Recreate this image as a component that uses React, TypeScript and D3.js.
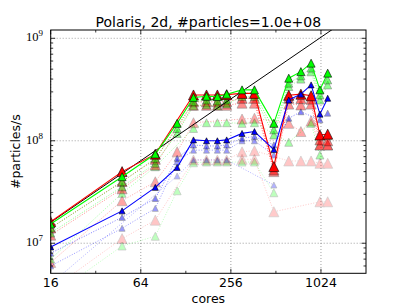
import * as d3 from 'd3';

// core counts on the x axis
const cores = [16, 48, 80, 112, 144, 176, 208, 240, 304, 368, 496, 624, 752, 880, 1008, 1136];

// throughput in millions of particles/s (null = no visible point)
const redMain = [16.2, 50, 74, null, 280, 280, 280, 282, 290, 290, 56, 278, 285, 275, 114, 116];
const greenMain = [15.4, 44.6, 74.3, 148, 265, 272, 270, 285, 314, 314, 148, 408, 473, 572, 314, 457];
const blueMain = [9.2, 20.7, 35.1, 55, 102, 100, 100, 102, 118, 123, 82, 250, 285, 351, 182, 260];

const red1 = [14.1, 40, 66, null, 240, 240, 240, 240, 260, 260, 52, 260, 258, 255, 102, 100];
const red2 = [12.0, 34, 58, null, 222, 222, 222, 222, 233, 233, 50, 228, 224, 228, 91, 91];
const red3 = [6.5, 26, 39.8, 78, 150, null, null, null, 163, 166, null, 148, 123, 156, 91, 91];
const red4 = [3.5, 11.1, 16.8, null, 65, 65, 65, 65, 78, 80, null, 63.5, 63.5, 63.5, 60.3, 60.3];
const red5 = [null, null, null, null, null, null, null, null, 66, 66, 20.3, null, null, null, 25.4, 25.4];

const green1 = [14.1, 39.8, 67.4, 132, 241, 250, 245, 250, 291, 291, 128, 365, 430, 512, 280, 393];
const green2 = [12.6, 35.6, 60.3, 118, 219, 224, 219, 228, 270, 270, 114, 338, 400, 471, 250, 351];
const green3 = [7.0, 30.7, 55.8, null, 132, 150, 150, 150, 148, 150, null, 96.7, null, 148, 72.6, 112];
const green4 = [3.0, 9.4, 11.7, 32.5, 61, 62, 62, 62, 62, 62, 31.1, null, null, null, null, null];

const blue1 = [8.0, 17.9, 27.4, 67.4, 91, 89, 89, 91, 106, 110, 91, 166, 192, null, 160, 186];
const blue2 = [6.0, 14.0, 21.9, 62.5, 81, 81, 81, 81, 100, 100, 72.6, null, null, null, null, null];
const blue3 = [4.0, null, null, 45.3, 65, 65, 65, 65, null, null, 37, null, null, null, null, null];

// perfect scaling reference
const idealCores = [16, 2048];
const idealRate = [16, 2048];

const xTicks = [16, 64, 256, 1024];
const xMinorTicks = [32, 128, 512];
const yTicks = [10, 100, 1000];
const yTickExp = ['7', '8', '9'];

const W = 407;
const H = 305;
const plot = { left: 50.7, right: 366, top: 30, bottom: 273.3 };

type Series = { values: (number | null)[]; color: string; alpha: number; size: number; main: boolean };

const series: Series[] = [
  { values: red5, color: '#ff0000', alpha: 0.2, size: 10, main: false },
  { values: red4, color: '#ff0000', alpha: 0.22, size: 10, main: false },
  { values: green4, color: '#00ff00', alpha: 0.25, size: 8, main: false },
  { values: blue3, color: '#0000ff', alpha: 0.3, size: 6, main: false },
  { values: red3, color: '#ff0000', alpha: 0.35, size: 10, main: false },
  { values: green3, color: '#00ff00', alpha: 0.35, size: 8, main: false },
  { values: blue2, color: '#0000ff', alpha: 0.4, size: 6, main: false },
  { values: red2, color: '#ff0000', alpha: 0.45, size: 10, main: false },
  { values: red1, color: '#ff0000', alpha: 0.55, size: 10, main: false },
  { values: green2, color: '#00ff00', alpha: 0.45, size: 8, main: false },
  { values: green1, color: '#00ff00', alpha: 0.55, size: 8, main: false },
  { values: blue1, color: '#0000ff', alpha: 0.5, size: 6, main: false },
];

const mains: Series[] = [
  { values: redMain, color: '#ff0000', alpha: 1, size: 10, main: true },
  { values: greenMain, color: '#00ff00', alpha: 1, size: 8, main: true },
  { values: blueMain, color: '#0000ff', alpha: 1, size: 6, main: true },
];

export default function App() {
  const x = d3.scaleLog().base(2).domain([16, 2048]).range([plot.left, plot.right]);
  const y = d3.scaleLog().domain([5.09, 1205]).range([plot.bottom, plot.top]);

  const line = d3
    .line<[number, number]>()
    .x((d) => x(d[0]))
    .y((d) => y(d[1]));

  const pts = (vals: (number | null)[]) =>
    cores.map((c, i) => [c, vals[i]] as [number, number | null]).filter((d) => d[1] != null) as [number, number][];

  const tri = (cx: number, cy: number, s: number) => {
    const h = s / 2;
    return `M${cx},${cy - h}L${cx + h},${cy + h}L${cx - h},${cy + h}Z`;
  };

  const yMinor: number[] = [];
  for (let e = 0; e <= 3; e++) {
    for (let m = 2; m <= 9; m++) {
      const v = m * Math.pow(10, e);
      if (v > 5.09 && v < 1205) yMinor.push(v);
    }
  }

  const drawSeries = (s: Series, k: string) => {
    const p = pts(s.values);
    return (
      <g key={k} opacity={s.alpha}>
        <path
          d={line(p) ?? ''}
          fill="none"
          stroke={s.color}
          strokeWidth={s.main ? 1.1 : 1}
          strokeDasharray={s.main ? undefined : '1,1.65'}
        />
        {p.map((d, i) => (
          <path key={i} d={tri(x(d[0]), y(d[1]), s.size)} fill={s.color} stroke="#000" strokeWidth={0.6} />
        ))}
      </g>
    );
  };

  const idealPts = idealCores.map((c, i) => [c, idealRate[i]] as [number, number]);
  const pw = plot.right - plot.left;
  const ph = plot.bottom - plot.top;

  return (
    <svg
      width={W}
      height={H}
      style={{ position: 'absolute', left: 0, top: 0, background: '#fff' }}
      fontFamily="DejaVu Sans"
    >
      <defs>
        <clipPath id="plotclip">
          <rect x={plot.left} y={plot.top} width={pw} height={ph} />
        </clipPath>
      </defs>

      {/* grid */}
      <g stroke="#000" strokeWidth={0.6} strokeDasharray="1,2" opacity={0.6}>
        {xTicks.map((t) => (
          <line key={t} x1={x(t)} x2={x(t)} y1={plot.top} y2={plot.bottom} />
        ))}
        {yTicks.map((t) => (
          <line key={t} x1={plot.left} x2={plot.right} y1={y(t)} y2={y(t)} />
        ))}
      </g>

      <g clipPath="url(#plotclip)">
        {series.map((s, i) => drawSeries(s, 'l' + i))}
        <path d={line(idealPts) ?? ''} fill="none" stroke="#000" strokeWidth={1} />
        {mains.map((s, i) => drawSeries(s, 'm' + i))}
      </g>

      {/* ticks */}
      <g stroke="#000" strokeWidth={0.8}>
        {xTicks.map((t) => (
          <g key={t}>
            <line x1={x(t)} x2={x(t)} y1={plot.bottom} y2={plot.bottom - 4.5} />
            <line x1={x(t)} x2={x(t)} y1={plot.top} y2={plot.top + 4.5} />
          </g>
        ))}
        {xMinorTicks.map((t) => (
          <g key={t}>
            <line x1={x(t)} x2={x(t)} y1={plot.bottom} y2={plot.bottom - 2.5} />
            <line x1={x(t)} x2={x(t)} y1={plot.top} y2={plot.top + 2.5} />
          </g>
        ))}
        {yTicks.map((t) => (
          <g key={t}>
            <line x1={plot.left} x2={plot.left + 4.5} y1={y(t)} y2={y(t)} />
            <line x1={plot.right} x2={plot.right - 4.5} y1={y(t)} y2={y(t)} />
          </g>
        ))}
        {yMinor.map((t) => (
          <g key={t}>
            <line x1={plot.left} x2={plot.left + 2.5} y1={y(t)} y2={y(t)} />
            <line x1={plot.right} x2={plot.right - 2.5} y1={y(t)} y2={y(t)} />
          </g>
        ))}
      </g>

      <rect x={plot.left} y={plot.top} width={pw} height={ph} fill="none" stroke="#000" strokeWidth={1} />

      {/* tick labels */}
      {xTicks.map((t) => (
        <text key={t} x={x(t)} y={286.7} textAnchor="middle" fontSize={12.5}>
          {t}
        </text>
      ))}
      {yTicks.map((t, i) => (
        <text key={t} x={43} y={y(t) + 3} textAnchor="end" fontSize={12.5} fontFamily="Liberation Serif">
          10
          <tspan dy={-5} fontSize={9}>
            {yTickExp[i]}
          </tspan>
        </text>
      ))}

      <text x={(plot.left + plot.right) / 2} y={303} textAnchor="middle" fontSize={12.5}>
        cores
      </text>
      <text
        transform={`translate(19.5,${(plot.top + plot.bottom) / 2}) rotate(-90)`}
        textAnchor="middle"
        fontSize={12.5}
      >
        #particles/s
      </text>
      <text x={(plot.left + plot.right) / 2} y={26.5} textAnchor="middle" fontSize={14}>
        Polaris, 2d, #particles=1.0e+08
      </text>
    </svg>
  );
}
